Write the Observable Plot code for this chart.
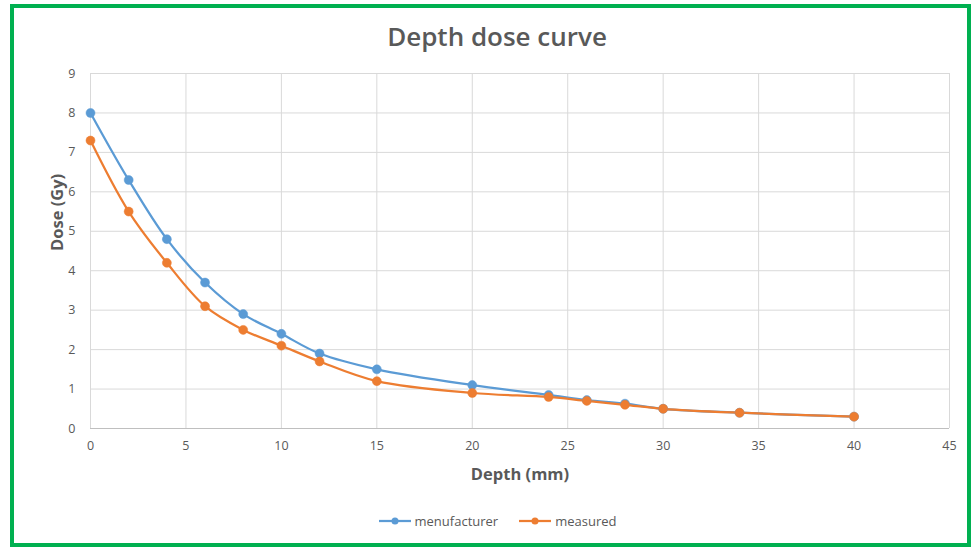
<!DOCTYPE html>
<html>
<head>
<meta charset="utf-8">
<script src="https://cdn.jsdelivr.net/npm/d3@7"></script>
<script src="https://cdn.jsdelivr.net/npm/@observablehq/plot@0.6"></script>
<style>
  html, body { margin: 0; padding: 0; background: #fff; }
  body { width: 973px; height: 547px; position: relative; overflow: hidden; font-family: "Open Sans", sans-serif; }
  #frame { position: absolute; left: 10px; top: 4px; width: 961px; height: 543px; box-sizing: border-box; border: 4px solid #00B050; }
  #title { position: absolute; left: 0; width: 994px; top: 18px; text-align: center; font-size: 26px; font-weight: 600; color: #595959; }
  #chart { position: absolute; left: 0; top: 50px; }
  #legend { position: absolute; left: 0; width: 994px; top: 512px; text-align: center; font-size: 13px; color: #595959; }
  #legend span.item { display: inline-flex; align-items: center; margin: 0 10px; }
  #legend svg { margin-right: 3px; }
</style>
</head>
<body>
<div id="frame"></div>
<div id="title">Depth dose curve</div>
<div id="chart"></div>
<div id="legend"></div>
<script>
const depth = [0, 2, 4, 6, 8, 10, 12, 15, 20, 24, 26, 28, 30, 34, 40];
const manufacturer = [8.0, 6.3, 4.8, 3.7, 2.9, 2.4, 1.9, 1.5, 1.1, 0.85, 0.72, 0.63, 0.5, 0.4, 0.3];
const measured = [7.3, 5.5, 4.2, 3.1, 2.5, 2.1, 1.7, 1.2, 0.9, 0.8, 0.7, 0.6, 0.5, 0.4, 0.3];
const seriesNames = ["menufacturer", "measured"];
const seriesColors = ["#5B9BD5", "#ED7D31"];
const xTicks = [0, 5, 10, 15, 20, 25, 30, 35, 40, 45];
const yTicks = [0, 1, 2, 3, 4, 5, 6, 7, 8, 9];

const rows = [];
depth.forEach((d, i) => {
  rows.push({series: seriesNames[0], depth: d, dose: manufacturer[i]});
  rows.push({series: seriesNames[1], depth: d, dose: measured[i]});
});
const colorOf = s => seriesColors[seriesNames.indexOf(s)];

const plot = Plot.plot({
  width: 973,
  height: 450,
  marginLeft: 90,
  marginRight: 24,
  marginTop: 23,
  marginBottom: 72,
  style: {fontFamily: "'Open Sans', sans-serif", fontSize: "12px", color: "#595959", background: "transparent"},
  x: {domain: [0, 45]},
  y: {domain: [0, 9]},
  marks: [
    Plot.ruleX(xTicks, {stroke: "#d9d9d9", strokeWidth: 1}),
    Plot.ruleY(yTicks, {stroke: "#d9d9d9", strokeWidth: 1}),
    Plot.ruleY([0], {stroke: "#bfbfbf", strokeWidth: 1}),
    Plot.axisX({ticks: xTicks, tickSize: 0, tickPadding: 13, label: null, fill: "#595959", fontSize: 12.5}),
    Plot.axisY({ticks: yTicks, tickSize: 0, tickPadding: 15, label: null, fill: "#595959", fontSize: 12.5}),
    Plot.text(["Depth (mm)"], {frameAnchor: "bottom", text: d => d, dy: 51, fontSize: 16.5, fontWeight: "bold", fill: "#595959"}),
    Plot.text(["Dose (Gy)"], {frameAnchor: "left", text: d => d, rotate: -90, dx: -33, fontSize: 16.5, fontWeight: "bold", fill: "#595959"}),
    ...seriesNames.map(s => Plot.line(rows.filter(r => r.series === s), {x: "depth", y: "dose", stroke: colorOf(s), strokeWidth: 2.25, curve: "catmull-rom"})),
    ...seriesNames.map(s => Plot.dot(rows.filter(r => r.series === s), {x: "depth", y: "dose", r: 4.5, fill: colorOf(s), stroke: colorOf(s), strokeWidth: 0.5}))
  ]
});
document.getElementById("chart").appendChild(plot);

const legend = document.getElementById("legend");
seriesNames.forEach((s, i) => {
  const item = document.createElement("span");
  item.className = "item";
  item.innerHTML = `<svg width="34" height="10"><line x1="1" x2="33" y1="5" y2="5" stroke="${seriesColors[i]}" stroke-width="2.25"/><circle cx="17" cy="5" r="3.5" fill="${seriesColors[i]}"/></svg>${s}`;
  legend.appendChild(item);
});
</script>
</body>
</html>
